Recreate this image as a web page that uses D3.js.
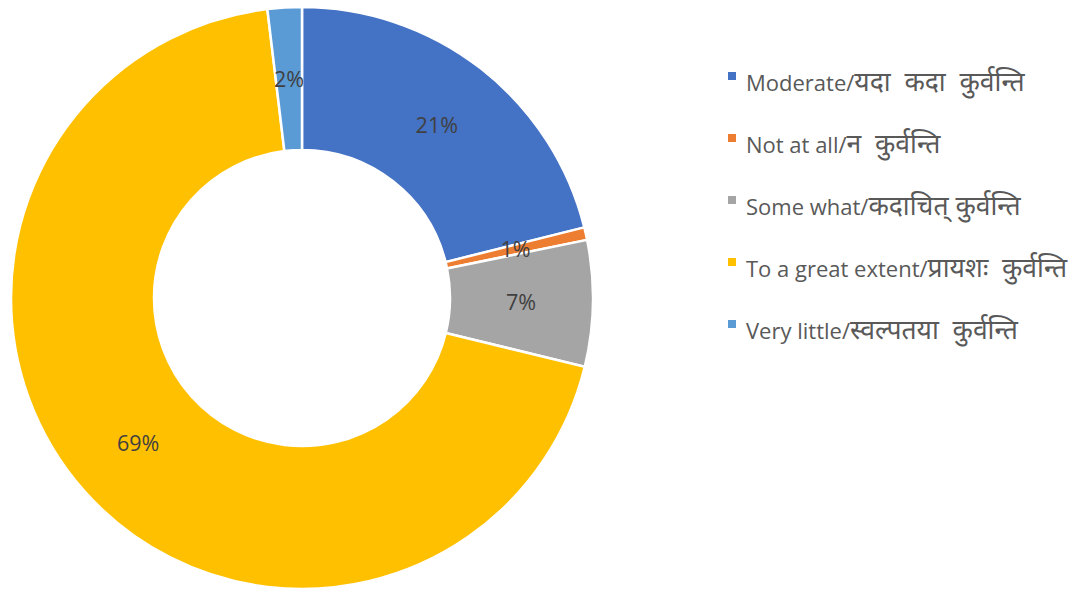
<!DOCTYPE html>
<html>
<head>
<meta charset="utf-8">
<script src="https://cdn.jsdelivr.net/npm/d3@7"></script>
<style>
  body { margin: 0; background: #fff; }
  svg { display: block; font-family: "Open Sans", "Noto Sans", sans-serif; }
  .legend text { white-space: pre; }
</style>
</head>
<body>
<div id="chart"></div>
<script>
// data (percent)
const categories = [
  'Moderate/यदा  कदा  कुर्वन्ति',
  'Not at all/न  कुर्वन्ति',
  'Some what/कदाचित् कुर्वन्ति',
  'To a great extent/प्रायशः  कुर्वन्ति',
  'Very little/स्वल्पतया  कुर्वन्ति'
];
const values = [21.1, 0.7, 7.0, 69.3, 1.9];
const labels = ['21%', '1%', '7%', '69%', '2%'];
const colors = ['#4472c4', '#ed7d31', '#a5a5a5', '#ffc000', '#5b9bd5'];

const width = 1077, height = 589;
const cx = 302, cy = 298;
const outerR = 291, innerR = 148;

const svg = d3.select('#chart')
  .append('svg')
  .attr('width', width)
  .attr('height', height);

const pie = d3.pie().sort(null).value(d => d);
const arcs = pie(values);

const arc = d3.arc().innerRadius(innerR).outerRadius(outerR);
const labelArc = d3.arc().innerRadius(219).outerRadius(219);

const g = svg.append('g').attr('transform', `translate(${cx},${cy})`);

g.selectAll('path')
  .data(arcs)
  .join('path')
  .attr('d', arc)
  .attr('fill', (d, i) => colors[i])
  .attr('stroke', '#fff')
  .attr('stroke-width', 2.5);

g.selectAll('text')
  .data(arcs)
  .join('text')
  .attr('transform', d => `translate(${labelArc.centroid(d)})`)
  .attr('text-anchor', 'middle')
  .attr('dy', '0.35em')
  .attr('font-size', '21.5px')
  .attr('fill', '#404040')
  .text((d, i) => labels[i]);

// legend
const legend = svg.append('g')
  .attr('class', 'legend')
  .attr('transform', 'translate(728, 82)');

categories.forEach((c, i) => {
  const item = legend.append('g').attr('transform', `translate(0, ${i * 62})`);
  item.append('rect')
    .attr('x', 0)
    .attr('y', -10)
    .attr('width', 8)
    .attr('height', 8)
    .attr('fill', colors[i]);
  const [latin, deva] = c.split('/');
  const t = item.append('text')
    .attr('x', 18)
    .attr('y', 9)
    .attr('font-size', '22px')
    .attr('fill', '#595959');
  t.append('tspan').text(latin + '/');
  // the Devanagari part is set bigger in the picture
  t.append('tspan').attr('font-size', '26.5px').text(deva);
});
</script>
</body>
</html>
